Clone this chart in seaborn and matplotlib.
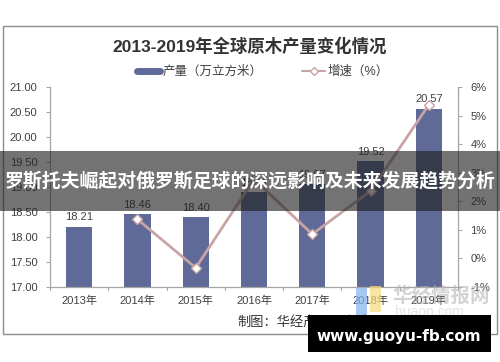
import matplotlib
matplotlib.use("Agg")
import matplotlib.pyplot as plt
import seaborn as sns
import pandas as pd
from matplotlib.patches import Rectangle
from matplotlib.lines import Line2D

years = ["2013年", "2014年", "2015年", "2016年", "2017年", "2018年", "2019年"]
output = [18.21, 18.46, 18.40, 18.91, 19.07, 19.52, 20.57]
growth = [None, 1.37, -0.33, 2.77, 0.85, 2.36, 5.38]
left_ticks = [17.00, 17.50, 18.00, 18.50, 19.00, 19.50, 20.00, 20.50, 21.00]
right_ticks = [-1, 0, 1, 2, 3, 4, 5, 6]

sns.set_theme(style="white")
plt.rcParams['font.family'] = ['Liberation Sans', 'Noto Sans CJK SC', 'DejaVu Sans']

BAR = "#5f6a98"
LINE = "#c9a4a4"
GRAY = "#a6a6a6"
TXT = "#404040"

fig = plt.figure(figsize=(5, 3.62), dpi=100)
fig.patch.set_facecolor("white")

# outer frame
fig.add_artist(Rectangle((3/500, 1-334/362), 494/500, 308/362, transform=fig.transFigure,
                         fill=False, edgecolor="#8c8c8c", linewidth=1.0))

ax = fig.add_axes([50/500, 1-287/362, 408/500, 200/362])
df = pd.DataFrame({"year": years, "output": output, "growth": growth})
sns.barplot(data=df, x="year", y="output", ax=ax, color=BAR, width=0.45,
            saturation=1, edgecolor="none")
ax.set_ylim(17, 21)
ax.set_xlim(-0.5, 6.5)
ax.set_yticks(left_ticks)
ax.set_yticklabels([f"{v:.2f}" for v in left_ticks], fontsize=8, color=TXT)
ax.set_xlabel("")
ax.set_ylabel("")
ax.tick_params(axis="x", labelsize=8, colors=TXT, length=0, pad=6)
ax.tick_params(axis="y", length=3, width=0.8, color=GRAY, pad=6, left=True)
for s in ["top", "right"]:
    ax.spines[s].set_visible(False)
for s in ["left", "bottom"]:
    ax.spines[s].set_color(GRAY)
    ax.spines[s].set_linewidth(0.9)
for i in range(8):
    ax.plot([i-0.5, i-0.5], [17, 16.94], color=GRAY, lw=0.8, clip_on=False)
for i, v in enumerate(output):
    ax.text(i, v + 0.08, f"{v:.2f}", ha="center", va="bottom", fontsize=8, color=TXT)

ax2 = ax.twinx()
sns.lineplot(data=df.dropna(), x="year", y="growth", ax=ax2, color=LINE, linewidth=2,
             marker="D", markersize=5, markerfacecolor="white", markeredgecolor=LINE,
             markeredgewidth=1.0, sort=False)
ax2.set_ylim(-1, 6)
ax2.set_xlim(-0.5, 6.5)
ax2.set_yticks(right_ticks)
ax2.set_yticklabels([f"{v}%" for v in right_ticks], fontsize=8, color=TXT)
ax2.set_ylabel("")
ax2.tick_params(axis="y", length=3, width=0.8, color=GRAY, pad=6, right=True)
for s in ["top", "left", "bottom"]:
    ax2.spines[s].set_visible(False)
ax2.spines["right"].set_color(GRAY)
ax2.spines["right"].set_linewidth(0.9)

# title
fig.text(0.5, 1-46/362, "2013-2019年全球原木产量变化情况", ha="center", va="center",
         fontsize=12.5, fontweight="bold", color="#333333")

# legend
handles = [Line2D([], [], color=BAR, lw=5),
           Line2D([], [], color=LINE, lw=1.5, marker="D", markersize=4,
                  markerfacecolor="white", markeredgecolor=LINE)]
fig.legend(handles, ["产量（万立方米）", "增速（%）"], loc="center",
           bbox_to_anchor=(263/500, 1-72/362), ncol=2, frameon=False, fontsize=9,
           handlelength=1.8, handletextpad=0.2, columnspacing=3.2,
           labelcolor="#404040")

# source
fig.text(493/500, 1-322/362, "制图：华经产业研究院（www.huaon.com）", ha="right",
         va="center", fontsize=9.5, color="#333333")

# watermark
fig.text(392/500, 1-296/362, "华经情报网", ha="left", va="center", fontsize=14,
         fontweight="bold", color="#b0b0b0", alpha=0.55)
fig.text(395/500, 1-312/362, "huaon.com", ha="left", va="center", fontsize=10,
         color="#c8c8c8", alpha=0.5)
fig.add_artist(Rectangle((356/500, 1-318/362), 11/500, 30/362, transform=fig.transFigure,
                         facecolor="#7fb3f0", edgecolor="none", alpha=0.7))
fig.add_artist(Rectangle((370/500, 1-312/362), 11/500, 26/362, transform=fig.transFigure,
                         facecolor="#f5dc7a", edgecolor="none", alpha=0.7))

# banner overlay
fig.add_artist(Rectangle((0, 1-211/362), 1, 60/362, transform=fig.transFigure,
                         facecolor="#1e1e1e", edgecolor="none", alpha=0.62, zorder=10))
fig.text(0.5, 1-181/362, "罗斯托夫崛起对俄罗斯足球的深远影响及未来发展趋势分析", ha="center",
         va="center", fontsize=13.6, fontweight="bold", color="white", zorder=11)

# url box
fig.add_artist(Rectangle((308/500, 1-352/362), 183/500, 37/362, transform=fig.transFigure,
                         facecolor="black", edgecolor="none", zorder=10))
fig.text(399/500, 1-336/362, "www.guoyu-fb.com", ha="center", va="center",
         fontsize=11, fontweight="bold", color="white", zorder=11,
         family=["DejaVu Sans"])

fig.savefig("out.png", dpi=100)
